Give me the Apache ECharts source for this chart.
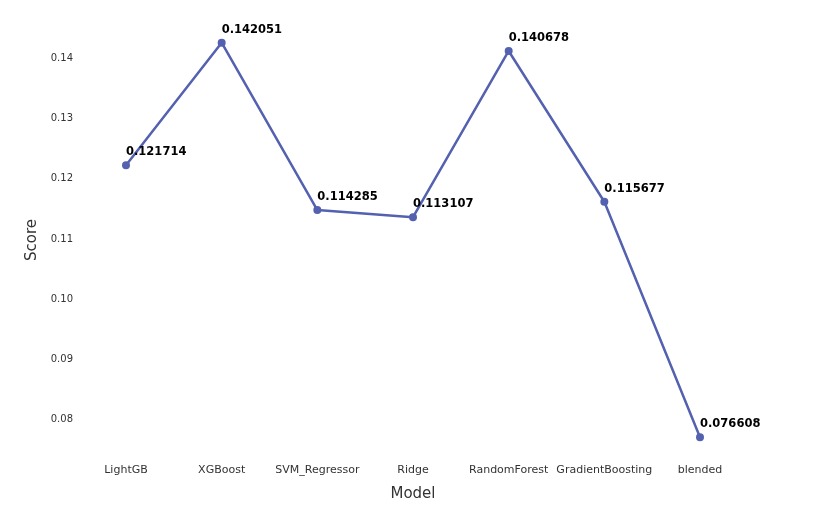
<!DOCTYPE html>
<html>
<head>
<meta charset="utf-8">
<script src="https://cdn.jsdelivr.net/npm/echarts@6/dist/echarts.min.js"></script>
<style>html,body{margin:0;padding:0;background:#fff;}#c{width:821px;height:507px;}</style>
</head>
<body>
<div id="c"></div>
<script>
const categories = ['LightGB','XGBoost','SVM_Regressor','Ridge','RandomForest','GradientBoosting','blended'];
const scores = [0.121714, 0.142051, 0.114285, 0.113107, 0.140678, 0.115677, 0.076608];
const yTicks = [0.08, 0.09, 0.10, 0.11, 0.12, 0.13, 0.14];

const chart = echarts.init(document.getElementById('c'), null, {renderer: 'canvas'});
const font = 'DejaVu Sans';
chart.setOption({
  backgroundColor: '#ffffff',
  animation: false,
  grid: {left: 126, right: 121, top: 23, bottom: 50, containLabel: false},
  xAxis: {
    type: 'category',
    data: categories,
    boundaryGap: false,
    name: 'Model',
    nameLocation: 'middle',
    nameGap: 30,
    nameTextStyle: {fontFamily: font, fontSize: 15, color: '#333'},
    axisLine: {show: false},
    axisTick: {show: false},
    splitLine: {show: false},
    axisLabel: {interval: 0, fontFamily: font, fontSize: 11, color: '#333', margin: 8}
  },
  yAxis: {
    type: 'value',
    min: 0.07333,
    max: 0.14532,
    name: 'Score',
    nameLocation: 'middle',
    nameGap: 85,
    nameRotate: 90,
    nameTextStyle: {fontFamily: font, fontSize: 15, color: '#333'},
    axisLine: {show: false},
    axisTick: {show: false},
    splitLine: {show: false},
    axisLabel: {
      customValues: yTicks,
      fontFamily: font, fontSize: 10, color: '#333', margin: 53,
      verticalAlign: 'top', lineHeight: 6,
      formatter: v => v.toFixed(2)
    }
  },
  series: [{
    type: 'line',
    data: scores,
    symbol: 'circle',
    symbolSize: 8,
    lineStyle: {color: '#5461b0', width: 2.5},
    itemStyle: {color: '#5461b0'},
    label: {
      show: true,
      position: 'top',
      align: 'left',
      distance: 3,
      fontFamily: font,
      fontSize: 11.5,
      fontWeight: 'bold',
      color: '#000',
      formatter: p => p.value.toFixed(6)
    }
  }]
});
</script>
</body>
</html>
